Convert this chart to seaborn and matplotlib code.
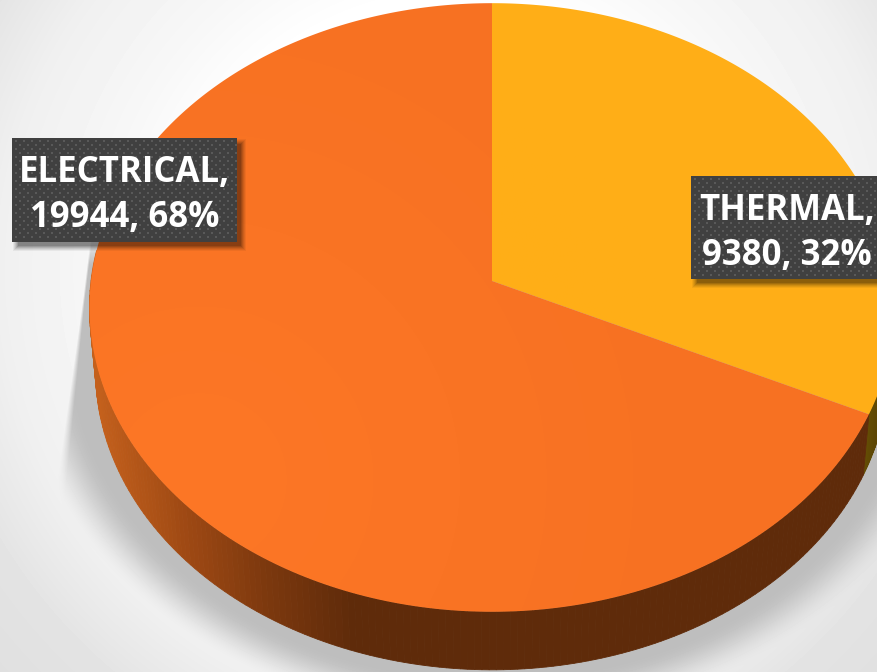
import numpy as np
import matplotlib
matplotlib.use("Agg")
import matplotlib.pyplot as plt
from matplotlib.patches import Polygon, Rectangle
from matplotlib.colors import to_rgb
import seaborn as sns

# Energy use by type
categories = ["THERMAL", "ELECTRICAL"]
values = [9380, 19944]

top_colors = [("#ffae17", "#ffae17"), ("#fd7726", "#f77122")]
wall_colors = [["#6b5205", "#5c4604"], ["#c4601c", "#a04a14", "#7c380e", "#5f2b0a", "#5f2b0a"]]

W, H = 877, 672

sns.set_theme(style="white")
plt.rcParams["font.family"] = ["Open Sans", "DejaVu Sans"]

fig = plt.figure(figsize=(W / 100, H / 100), dpi=100)
ax = fig.add_axes([0, 0, 1, 1])
ax.set_xlim(0, W)
ax.set_ylim(H, 0)
ax.axis("off")

# Disc seen in perspective: unit-circle coordinates are projected to the canvas
CX, CY, RX, RY, K = 492.0, 281.0, 401.0, 302.0, 0.087
DEPTH = 63.0
BASE_SCALE = 0.985


def project(theta, radius=1.0, drop=0.0, scale=1.0):
    """theta is measured clockwise from twelve o'clock."""
    u = radius * np.sin(theta)
    v = radius * np.cos(theta)
    w = 1 + K * v
    return CX + scale * RX * u / w, CY + drop - scale * RY * v / w


# Page background and soft drop shadow
yy, xx = np.mgrid[0:H, 0:W] + 0.5
dist = np.hypot(xx - 450, yy - 270)
bg = np.interp(dist, [270, 345, 450, 500, 530, 620], [1.0, 0.97, 0.94, 0.91, 0.89, 0.875])
ell = np.hypot((xx - CX) / 450.0, (yy - 340) / 362.0)
edge = np.clip((1.0 - ell) * 362.0 / 45.0 + 0.5, 0, 1)
edge = edge * edge * (3 - 2 * edge)
line_x = 90 - (yy - 250) * 28 / 230
side = np.clip((xx - line_x) / np.maximum(2, (yy - 250) * 0.04) + 0.5, 0, 1)
top_fade = np.clip((yy - 235) / 30, 0, 1)
shadow = edge * side * top_fade
page = bg * (1 - shadow) + 0.745 * shadow
ax.imshow(page, cmap="gray", vmin=0, vmax=1, extent=(0, W, H, 0), aspect="auto", zorder=0)
ax.set_xlim(0, W)
ax.set_ylim(H, 0)

# Slice angles follow the values
total = sum(values)
shares = [v / total for v in values]
edges = 2 * np.pi * np.concatenate([[0], np.cumsum(shares)])

# Side wall, built as thin quads shaded along the arc
for i in range(len(values)):
    thetas = np.linspace(edges[i], edges[i + 1], 260)
    ramp = sns.blend_palette(wall_colors[i], n_colors=256)
    xt, yt = project(thetas)
    xb, yb = project(thetas, drop=DEPTH, scale=BASE_SCALE)
    for j in range(len(thetas) - 1):
        if np.cos((thetas[j] + thetas[j + 1]) / 2) > 0.1:
            continue
        xm = (xt[j] + xt[j + 1]) / 2
        f = np.clip((xm - 95) / 340, 0, 1) if i == 1 else (xm - 860) / 20
        col = ramp[int(np.clip(f, 0, 1) * 255)]
        ax.add_patch(Polygon([(xt[j], yt[j]), (xt[j + 1], yt[j + 1]),
                              (xb[j + 1], yb[j + 1]), (xb[j], yb[j])],
                             closed=True, fc=col, ec=col, lw=0.6, zorder=2))

# Top face, a faint gradient clipped to each slice, brightest toward the lower left
glow = np.clip(np.hypot(xx - 200, yy - 480) / 520, 0, 1)[:, :, None]
for i in range(len(values)):
    thetas = np.linspace(edges[i], edges[i + 1], 400)
    xs, ys = project(thetas)
    poly = Polygon(np.column_stack([np.r_[CX, xs], np.r_[CY, ys]]), closed=True,
                   fc="none", ec="none", zorder=3)
    ax.add_patch(poly)
    c0, c1 = map(np.array, map(to_rgb, top_colors[i]))
    img = ax.imshow(c0 * (1 - glow) + c1 * glow, extent=(0, W, H, 0), aspect="auto", zorder=3)
    img.set_clip_path(poly)
ax.set_xlim(0, W)
ax.set_ylim(H, 0)


def label_box(x0, y0, x1, y1, text, tx, ty):
    # Blurred box shadow
    for grow, a in zip([4, 3, 2, 1, 0, -1], [0.05, 0.07, 0.08, 0.10, 0.12, 0.14]):
        ax.add_patch(Rectangle((x0 + 5 - grow, y0 + 5 - grow), x1 - x0 + 2 * grow, y1 - y0 + 2 * grow,
                               fc="black", ec="none", alpha=a, zorder=4))
    ax.add_patch(Rectangle((x0, y0), x1 - x0, y1 - y0, fc="#404040", ec="none", zorder=5))
    # Staggered dot texture
    gx, gy = np.meshgrid(np.arange(x0 + 4, x1 - 1, 8.0), np.arange(y0 + 3, y1 - 1, 4.0))
    gx[1::2] += 4
    ax.scatter(gx.ravel(), gy.ravel(), s=3.0, marker="s", c="#595959", linewidths=0, zorder=6)
    ax.text(tx, ty, text, color="white", fontsize=LABEL_SIZE, fontweight="bold", ha="center",
            va="center", linespacing=1.35, zorder=7)


LABEL_SIZE = 25
fmt = [f"{c},\n{v}, {s * 100:.0f}%" for c, v, s in zip(categories, values, shares)]
label_box(12, 138, 237, 242, fmt[1], 124.5, 195.5)
label_box(691, 176, 885, 279, fmt[0], 787, 233.5)

fig.savefig("out.png", dpi=100)
